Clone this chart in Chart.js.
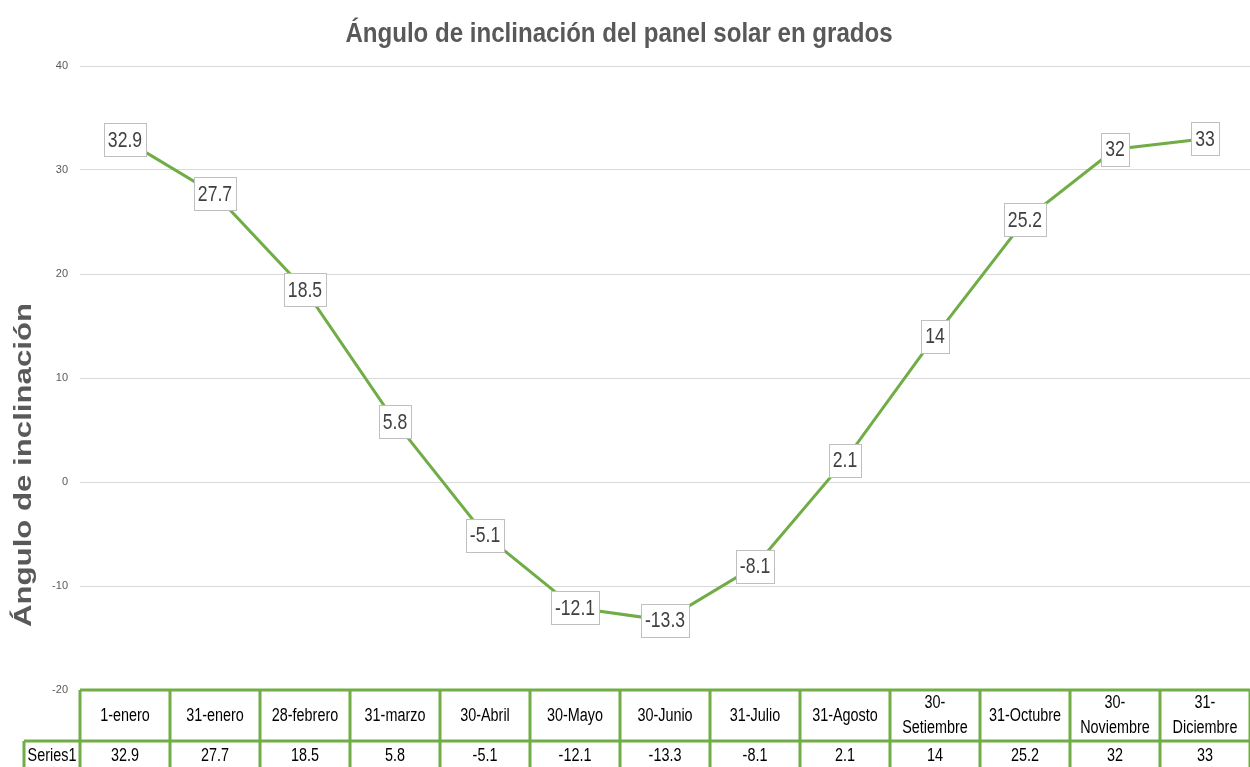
<!DOCTYPE html>
<html>
<head>
<meta charset="utf-8">
<style>
  html, body { margin: 0; padding: 0; background: #fff; }
  #wrap { width: 1250px; height: 767px; position: relative; }
</style>
</head>
<body>
<div id="wrap"><canvas id="anguloChart"></canvas></div>
<script src="https://cdn.jsdelivr.net/npm/chart.js"></script>
<script>
  // datos
  const categories = ['1-enero', '31-enero', '28-febrero', '31-marzo', '30-Abril', '30-Mayo', '30-Junio',
    '31-Julio', '31-Agosto', ['30-', 'Setiembre'], '31-Octubre', ['30-', 'Noviembre'], ['31-', 'Diciembre']];
  const seriesName = 'Series1';
  const values = [32.9, 27.7, 18.5, 5.8, -5.1, -12.1, -13.3, -8.1, 2.1, 14, 25.2, 32, 33];
  const yMin = -20, yMax = 40, yStep = 10;
  const chartTitle = 'Ángulo de inclinación del panel solar en grados';
  const yTitle = 'Ángulo de inclinación';

  const FONT = "'Liberation Sans', Arial, sans-serif";
  const verde = '#70ad47';

  // el original tiene letra angosta: se dibuja estirando/encogiendo en x
  function narrowText(ctx, txt, x, y, sx) {
    ctx.save();
    ctx.translate(x, y);
    ctx.scale(sx, 1);
    ctx.fillText(txt, 0, 0);
    ctx.restore();
  }

  // titulos (grafico y eje y)
  const titles = {
    id: 'titles',
    afterDraw(chart) {
      const ctx = chart.ctx;
      ctx.save();
      ctx.fillStyle = '#595959';
      ctx.textAlign = 'center';
      ctx.textBaseline = 'alphabetic';
      ctx.font = 'bold 28px ' + FONT;
      narrowText(ctx, chartTitle, 619, 42, 0.86);

      ctx.translate(31, 465);
      ctx.rotate(-Math.PI / 2);
      ctx.scale(1.3, 1);
      ctx.font = 'bold 24px ' + FONT;
      ctx.fillText(yTitle, 0, 0);
      ctx.restore();
    }
  };

  // etiquetas de datos en cajitas blancas
  const dataLabels = {
    id: 'dataLabels',
    afterDatasetsDraw(chart) {
      const ctx = chart.ctx;
      const meta = chart.getDatasetMeta(0);
      const sx = 0.8;
      ctx.save();
      ctx.font = '22px ' + FONT;
      ctx.textAlign = 'center';
      ctx.textBaseline = 'middle';
      meta.data.forEach((pt, i) => {
        const txt = String(values[i]);
        const w = Math.round(ctx.measureText(txt).width * sx + 8);
        const h = 33;
        const bx = Math.round(pt.x - w / 2), by = Math.round(pt.y - h / 2);
        ctx.fillStyle = '#fff';
        ctx.fillRect(bx, by, w, h);
        ctx.strokeStyle = '#bfbfbf';
        ctx.lineWidth = 1;
        ctx.strokeRect(bx + 0.5, by + 0.5, w, h);
        ctx.fillStyle = '#404040';
        narrowText(ctx, txt, pt.x, pt.y + 1, sx);
      });
      ctx.restore();
    }
  };

  // tabla de datos debajo del grafico
  const dataTable = {
    id: 'dataTable',
    afterDraw(chart) {
      const ctx = chart.ctx;
      const x = chart.scales.x;
      const area = chart.chartArea;
      const colW = (area.right - area.left) / categories.length;
      const top = area.bottom;
      const mid = top + 51;
      const bottom = top + 105;
      const leftCell = 24;
      const sx = 0.8;
      ctx.save();
      ctx.strokeStyle = verde;
      ctx.lineWidth = 3;
      ctx.beginPath();
      ctx.moveTo(area.left, top); ctx.lineTo(area.right, top);
      ctx.moveTo(leftCell, mid); ctx.lineTo(area.right, mid);
      ctx.moveTo(leftCell, bottom); ctx.lineTo(area.right, bottom);
      ctx.moveTo(leftCell, mid); ctx.lineTo(leftCell, bottom);
      for (let i = 0; i <= categories.length; i++) {
        const cx = area.left + i * colW;
        ctx.moveTo(cx, top); ctx.lineTo(cx, bottom);
      }
      ctx.stroke();

      ctx.fillStyle = '#000';
      ctx.font = '18px ' + FONT;
      ctx.textAlign = 'center';
      ctx.textBaseline = 'middle';
      categories.forEach((c, i) => {
        const cx = x.getPixelForValue(i);
        const lines = Array.isArray(c) ? c : [c];
        const lh = 25;
        lines.forEach((ln, j) => {
          narrowText(ctx, ln, cx, top + 26 + (j - (lines.length - 1) / 2) * lh, sx);
        });
        narrowText(ctx, String(values[i]), cx, mid + 15, sx);
      });
      narrowText(ctx, seriesName, (leftCell + area.left) / 2, mid + 15, sx);
      ctx.restore();
    }
  };

  const ctx = document.getElementById('anguloChart').getContext('2d');
  const chart = new Chart(ctx, {
    type: 'line',
    data: {
      labels: categories,
      datasets: [{
        label: seriesName,
        data: values,
        borderColor: verde,
        borderWidth: 3,
        pointRadius: 0,
        tension: 0,
        fill: false
      }]
    },
    options: {
      responsive: true,
      maintainAspectRatio: false,
      animation: false,
      layout: { padding: { left: 10, right: 0, top: 66, bottom: 77 } },
      plugins: {
        legend: { display: false },
        tooltip: { enabled: false },
        title: { display: false }
      },
      scales: {
        x: {
          type: 'category',
          offset: true,
          display: false
        },
        y: {
          min: yMin,
          max: yMax,
          afterFit(scale) { scale.width = 70; },
          ticks: {
            stepSize: yStep,
            color: '#595959',
            font: { family: FONT, size: 11 },
            padding: 12
          },
          grid: { color: '#d9d9d9', drawTicks: false, lineWidth: 1 },
          border: { display: false }
        }
      }
    },
    plugins: [dataLabels, dataTable, titles]
  });
</script>
</body>
</html>
